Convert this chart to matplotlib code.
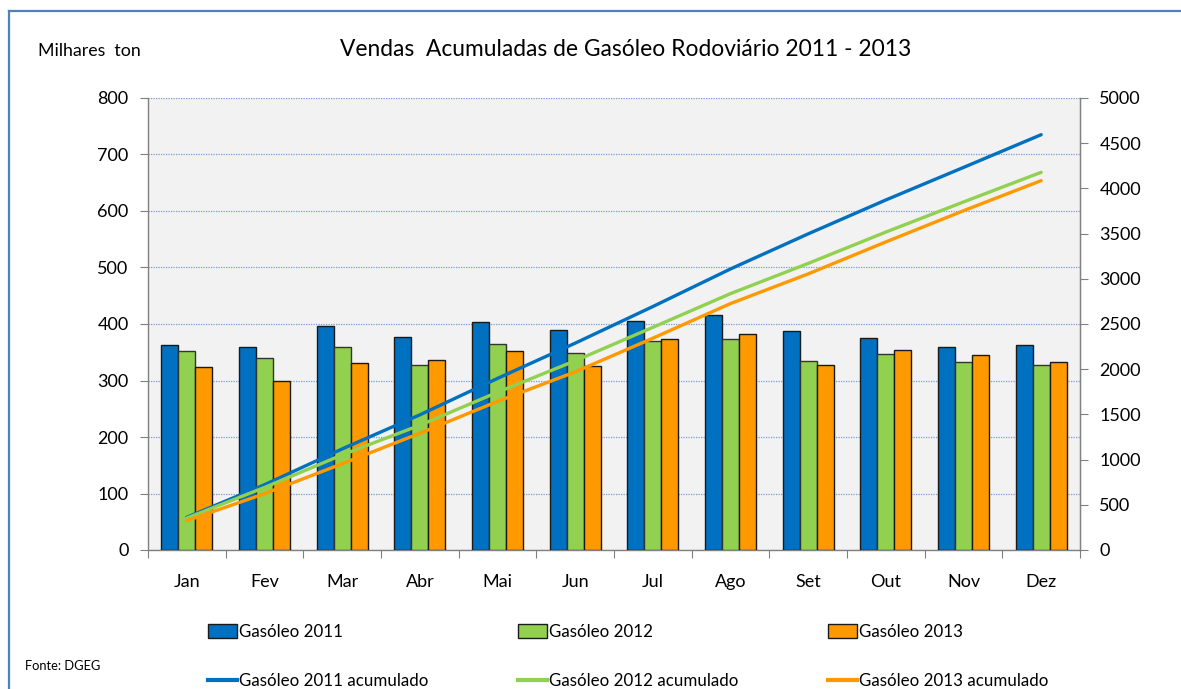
import matplotlib
matplotlib.use("Agg")
import matplotlib.pyplot as plt
from matplotlib.patches import Patch
from matplotlib.lines import Line2D
import numpy as np

months = ["Jan", "Fev", "Mar", "Abr", "Mai", "Jun", "Jul", "Ago", "Set", "Out", "Nov", "Dez"]
g2011 = [362, 360, 396, 377, 403, 390, 405, 416, 388, 375, 360, 362]
g2012 = [353, 339, 360, 328, 365, 348, 370, 373, 334, 347, 333, 328]
g2013 = [324, 299, 331, 337, 353, 326, 373, 383, 328, 354, 345, 333]
acc2011 = [362, 722, 1118, 1495, 1898, 2288, 2693, 3109, 3497, 3872, 4232, 4594]
acc2012 = [353, 692, 1052, 1380, 1745, 2093, 2463, 2836, 3170, 3517, 3850, 4178]
acc2013 = [324, 623, 954, 1291, 1644, 1970, 2343, 2726, 3054, 3408, 3753, 4086]
left_ticks = [0, 100, 200, 300, 400, 500, 600, 700, 800]
right_ticks = [0, 500, 1000, 1500, 2000, 2500, 3000, 3500, 4000, 4500, 5000]

BLUE = "#0070C0"
GREEN = "#92D050"
ORANGE = "#FF9900"
FONT = ["Lato", "DejaVu Sans"]

plt.rcParams["font.family"] = FONT

fig = plt.figure(figsize=(11.81, 6.89), dpi=100)
W, H = 1181, 689
ax = fig.add_axes([148 / W, 1 - 550 / H, (1080 - 148) / W, (550 - 98) / H])
ax.set_facecolor("#F2F2F2")

x = np.arange(len(months))
bw = 0.22
ax.bar(x - bw, g2011, bw, color=BLUE, edgecolor="#1a1a1a", linewidth=1.0, zorder=3)
ax.bar(x, g2012, bw, color=GREEN, edgecolor="#333333", linewidth=1.0, zorder=3)
ax.bar(x + bw, g2013, bw, color=ORANGE, edgecolor="#1a1a1a", linewidth=1.0, zorder=3)

ax.set_xlim(-0.5, 11.5)
ax.set_ylim(0, 800)
ax.set_yticks(left_ticks)
ax.set_yticklabels([str(v) for v in left_ticks], fontsize=13)
ax.yaxis.grid(True, linestyle=(0, (1, 1)), color="#7A9CD0", linewidth=0.9, zorder=0)
ax.set_axisbelow(True)

ax.set_xticks(np.arange(-0.5, 12, 1))
ax.set_xticklabels([])
ax.set_xticks(x, minor=True)
ax.set_xticklabels(months, minor=True, fontsize=13)
ax.tick_params(axis="x", which="major", length=6, color="#808080", direction="out")
ax.tick_params(axis="x", which="minor", length=0, pad=17)
ax.tick_params(axis="y", length=6, color="#808080", pad=8)

ax.spines["top"].set_visible(False)
for s in ["left", "bottom", "right"]:
    ax.spines[s].set_color("#808080")
    ax.spines[s].set_linewidth(1.0)

ax2 = ax.twinx()
ax2.set_ylim(0, 5000)
ax2.set_yticks(right_ticks)
ax2.set_yticklabels([str(v) for v in right_ticks], fontsize=13)
ax2.tick_params(axis="y", length=6, color="#808080", pad=8)
for s in ["top", "left", "bottom"]:
    ax2.spines[s].set_visible(False)
ax2.spines["right"].set_color("#808080")
ax2.plot(x, acc2011, color=BLUE, linewidth=2.4, solid_capstyle="round", zorder=4)
ax2.plot(x, acc2012, color=GREEN, linewidth=2.4, solid_capstyle="round", zorder=4)
ax2.plot(x, acc2013, color=ORANGE, linewidth=2.4, solid_capstyle="round", zorder=4)

# Titles
fig.text(626 / W, 1 - 50 / H, "Vendas  Acumuladas de Gasóleo Rodoviário 2011 - 2013",
         ha="center", va="center", fontsize=16.4)
fig.text(38 / W, 1 - 51 / H, "Milhares  ton", ha="left", va="center", fontsize=12.8)
fig.text(25 / W, 1 - 666 / H, "Fonte: DGEG", ha="left", va="center", fontsize=9.3)

# Frame border (partial, cropped screenshot)
fig.add_artist(Line2D([9 / W, 9 / W], [0, 1 - 11 / H], transform=fig.transFigure,
                      color="#4F81BD", linewidth=1.6))
fig.add_artist(Line2D([9 / W, 1], [1 - 11 / H, 1 - 11 / H], transform=fig.transFigure,
                      color="#4F81BD", linewidth=1.6))

# Legends
names = ["Gasóleo 2011", "Gasóleo 2012", "Gasóleo 2013"]
colors = [BLUE, GREEN, ORANGE]
xs = [208, 518, 828]
for xi, nm, c in zip(xs, names, colors):
    h1 = Patch(facecolor=c, edgecolor="#1a1a1a", linewidth=1.0)
    h2 = Line2D([], [], color=c, linewidth=3)
    fig.legend([h1, h2], [nm, nm + " acumulado"], loc="upper left",
               bbox_to_anchor=(xi / W, 1 - 624 / H), frameon=False,
               prop={"family": FONT, "size": 12.2}, handlelength=1.7,
               handleheight=0.9, handletextpad=0.15, labelspacing=1.97,
               borderaxespad=0, borderpad=0)

fig.savefig("out.png", dpi=100)
